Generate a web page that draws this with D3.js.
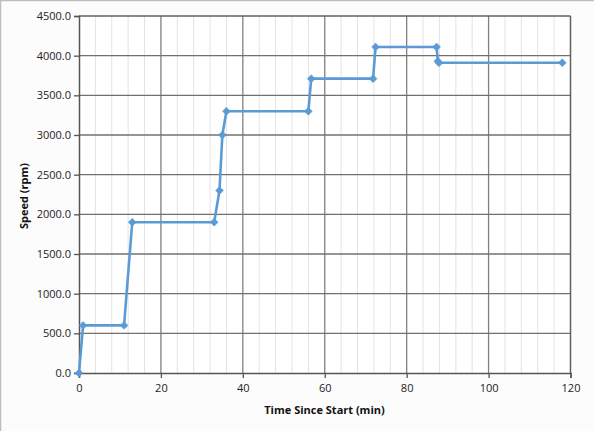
<!DOCTYPE html>
<html>
<head>
<meta charset="utf-8">
<script src="https://cdn.jsdelivr.net/npm/d3@7"></script>
<style>
  html, body { margin: 0; padding: 0; background: #fcfcfc; }
  svg { display: block; }
</style>
</head>
<body>
<script>
const timeMin = [0, 1, 11, 13, 33, 34.3, 35, 36, 56, 56.7, 71.8, 72.4, 87.3, 87.6, 87.9, 118];
const speedRpm = [0, 600, 600, 1900, 1900, 2300, 3000, 3300, 3300, 3710, 3710, 4110, 4110, 3930, 3910, 3910];
const xTicks = [0, 20, 40, 60, 80, 100, 120];
const yTicks = [0, 500, 1000, 1500, 2000, 2500, 3000, 3500, 4000, 4500];
const xLabel = "Time Since Start (min)";
const yLabel = "Speed (rpm)";

const W = 594, H = 431;
const m = { left: 79, top: 16, right: 594 - 570.5, bottom: 431 - 373 };
const svg = d3.select("body").append("svg").attr("width", W).attr("height", H);

svg.append("rect").attr("x", 0.5).attr("y", 0.5).attr("width", W + 5).attr("height", H + 5)
  .attr("fill", "#fcfcfc").attr("stroke", "#bdbdbd").attr("stroke-width", 1.5);

const x = d3.scaleLinear().domain([0, 120]).range([m.left, W - m.right]);
const y = d3.scaleLinear().domain([0, 4500]).range([H - m.bottom, m.top]);

const g = svg.append("g");
g.append("rect").attr("x", x(0)).attr("y", y(4500)).attr("width", x(120) - x(0)).attr("height", y(0) - y(4500)).attr("fill", "#ffffff");

// minor grid
const minor = d3.range(4, 120, 4).filter(v => v % 20 !== 0);
g.selectAll(".minor").data(minor).join("line")
  .attr("x1", d => x(d)).attr("x2", d => x(d)).attr("y1", y(0)).attr("y2", y(4500))
  .attr("stroke", "#e3e3e3").attr("stroke-width", 1);

// major grid
g.selectAll(".vmaj").data(xTicks.slice(1, -1)).join("line")
  .attr("x1", d => x(d)).attr("x2", d => x(d)).attr("y1", y(0)).attr("y2", y(4500))
  .attr("stroke", "#808080").attr("stroke-width", 1.3);
g.selectAll(".hmaj").data(yTicks.slice(1, -1)).join("line")
  .attr("x1", x(0)).attr("x2", x(120)).attr("y1", d => y(d)).attr("y2", d => y(d))
  .attr("stroke", "#707070").attr("stroke-width", 1.3);

// border top/right
g.append("line").attr("x1", x(0)).attr("x2", x(120)).attr("y1", y(4500)).attr("y2", y(4500)).attr("stroke", "#606060").attr("stroke-width", 1.5);
g.append("line").attr("x1", x(120)).attr("x2", x(120)).attr("y1", y(4500)).attr("y2", y(0)).attr("stroke", "#606060").attr("stroke-width", 1.5);

// axes
const xAxis = d3.axisBottom(x).tickValues(xTicks).tickSize(5).tickPadding(6).tickFormat(d3.format("d"));
const yAxis = d3.axisLeft(y).tickValues(yTicks).tickSize(5).tickPadding(3).tickFormat(d3.format(".1f"));
const xa = svg.append("g").attr("transform", `translate(0,${y(0)})`).call(xAxis);
const ya = svg.append("g").attr("transform", `translate(${x(0)},0)`).call(yAxis);
[xa, ya].forEach(a => {
  a.select(".domain").attr("stroke", "#555").attr("stroke-width", 1.5);
  a.selectAll(".tick line").attr("stroke", "#555").attr("stroke-width", 1.3);
  a.selectAll("text").attr("font-family", "'Open Sans', sans-serif").attr("font-size", 11).attr("fill", "#222");
});

// line
const pts = timeMin.map((t, i) => [t, speedRpm[i]]);
svg.append("path").datum(pts)
  .attr("d", d3.line().x(d => x(d[0])).y(d => y(d[1])))
  .attr("fill", "none").attr("stroke", "#5b9bd5").attr("stroke-width", 2.6).attr("stroke-linejoin", "round");

svg.selectAll(".mk").data(pts).join("path")
  .attr("transform", d => `translate(${x(d[0])},${y(d[1])})`)
  .attr("d", d3.symbol().type(d3.symbolDiamond2).size(40))
  .attr("fill", "#5b9bd5").attr("stroke", "#5b9bd5").attr("stroke-width", 0.5);

// labels
svg.append("text").attr("x", 324.5).attr("y", 414).attr("text-anchor", "middle")
  .attr("font-family", "'Open Sans', sans-serif").attr("font-size", 11).attr("font-weight", "bold").attr("fill", "#111")
  .text(xLabel);
svg.append("text").attr("transform", "translate(28,196) rotate(-90)").attr("text-anchor", "middle")
  .attr("font-family", "'Open Sans', sans-serif").attr("font-size", 11).attr("font-weight", "bold").attr("fill", "#111")
  .text(yLabel);
</script>
</body>
</html>
